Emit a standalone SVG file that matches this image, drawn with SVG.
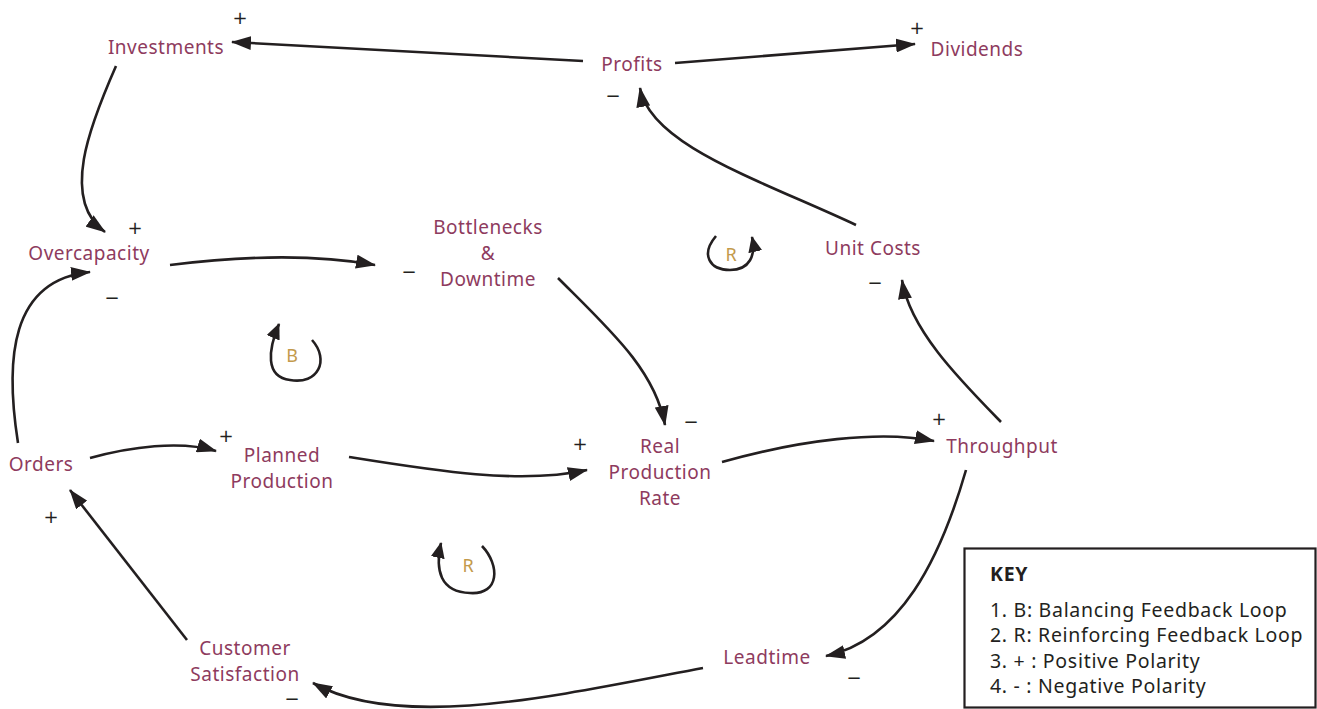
<svg xmlns="http://www.w3.org/2000/svg" width="1317" height="709" viewBox="0 0 1317 709">
  <defs>
    <marker id="arrow" viewBox="0 0 20 14" refX="19" refY="7" markerWidth="20" markerHeight="14" markerUnits="userSpaceOnUse" orient="auto">
      <path d="M0,0 L20,7 L0,14 Z" fill="#231f20"/>
    </marker>
    <marker id="arrow-sm" viewBox="0 0 16 14" refX="15" refY="7" markerWidth="16" markerHeight="14" markerUnits="userSpaceOnUse" orient="auto">
      <path d="M0,0 L16,7 L0,14 Z" fill="#231f20"/>
    </marker>
    <style>
      .node { font-family: "Noto Sans", "Open Sans", "Liberation Sans", sans-serif; font-size: 19px; letter-spacing: 0.5px; fill: #8e3b5e; text-anchor: middle; }
      .pol { font-family: "DejaVu Sans", "Liberation Sans", sans-serif; font-size: 18px; fill: #231f20; text-anchor: middle; }
      .loop { font-family: "Noto Sans", "Open Sans", "Liberation Sans", sans-serif; font-size: 18px; fill: #c39a4c; text-anchor: middle; }
      .link { fill: none; stroke: #231f20; stroke-width: 2.6; marker-end: url(#arrow); }
      .ring { fill: none; stroke: #231f20; stroke-width: 2.6; marker-end: url(#arrow-sm); }
      .key { font-family: "Noto Sans", "Open Sans", "Liberation Sans", sans-serif; font-size: 19.5px; letter-spacing: 0.7px; fill: #231f20; }
    </style>
  </defs>

  <!-- causal links -->
  <g id="connectors">
    <path class="link" d="M583,61 L232,42"/>
    <path class="link" d="M675,63 L915,44"/>
    <path class="link" d="M856,225 C760,180 650,145 640,88"/>
    <path class="link" d="M116,66 C90,125 60,200 105,232"/>
    <path class="link" d="M18,443 C5,360 10,280 90,272"/>
    <path class="link" d="M170,265 C250,255 320,255 375,265"/>
    <path class="link" d="M558,278 C610,330 655,370 665,425"/>
    <path class="link" d="M90,458 C130,447 180,440 216,451"/>
    <path class="link" d="M349,457 C430,470 520,485 587,470"/>
    <path class="link" d="M722,462 C800,440 880,430 934,441"/>
    <path class="link" d="M1001,422 C960,380 910,330 902,280"/>
    <path class="link" d="M966,470 C940,560 900,640 826,656"/>
    <path class="link" d="M703,668 C560,695 400,732 313,683"/>
    <path class="link" d="M187,640 L70,490"/>
  </g>

  <!-- variables -->
  <g id="investments"><text class="node" x="166" y="54">Investments</text></g>
  <g id="profits"><text class="node" x="632" y="71">Profits</text></g>
  <g id="dividends"><text class="node" x="977" y="56">Dividends</text></g>
  <g id="overcapacity"><text class="node" x="89" y="260">Overcapacity</text></g>
  <g id="bottlenecks">
    <text class="node" x="488" y="234">Bottlenecks</text>
    <text class="node" x="488" y="260">&amp;</text>
    <text class="node" x="488" y="286">Downtime</text>
  </g>
  <g id="unit-costs"><text class="node" x="873" y="255">Unit Costs</text></g>
  <g id="orders"><text class="node" x="41" y="471">Orders</text></g>
  <g id="planned-production">
    <text class="node" x="282" y="462">Planned</text>
    <text class="node" x="282" y="488">Production</text>
  </g>
  <g id="real-production-rate">
    <text class="node" x="660" y="453">Real</text>
    <text class="node" x="660" y="479">Production</text>
    <text class="node" x="660" y="505">Rate</text>
  </g>
  <g id="throughput"><text class="node" x="1002" y="453">Throughput</text></g>
  <g id="customer-satisfaction">
    <text class="node" x="245" y="655">Customer</text>
    <text class="node" x="245" y="681">Satisfaction</text>
  </g>
  <g id="leadtime"><text class="node" x="767" y="664">Leadtime</text></g>

  <!-- link polarities -->
  <g id="polarities">
    <text class="pol" x="240" y="24">+</text>
    <text class="pol" x="917" y="34">+</text>
    <text class="pol" x="613" y="102">−</text>
    <text class="pol" x="135" y="234">+</text>
    <text class="pol" x="112" y="304">−</text>
    <text class="pol" x="409" y="278">−</text>
    <text class="pol" x="875" y="289">−</text>
    <text class="pol" x="691" y="428">−</text>
    <text class="pol" x="939" y="425">+</text>
    <text class="pol" x="580" y="450">+</text>
    <text class="pol" x="226" y="442">+</text>
    <text class="pol" x="51" y="523">+</text>
    <text class="pol" x="854" y="684">−</text>
    <text class="pol" x="292" y="705">−</text>
  </g>

  <!-- feedback loop markers -->
  <g id="loop-b">
    <path class="ring" d="M312,340 C330,360 318,385 290,380 C265,377 268,350 279,324"/>
    <text class="loop" x="292" y="362">B</text>
  </g>
  <g id="loop-r-top">
    <path class="ring" d="M716,236 C700,255 710,270 730,270 C750,270 756,255 752,237"/>
    <text class="loop" x="731" y="261">R</text>
  </g>
  <g id="loop-r-bottom">
    <path class="ring" d="M482,546 C500,565 500,595 470,593 C440,592 435,570 441,543"/>
    <text class="loop" x="468" y="572">R</text>
  </g>

  <!-- legend -->
  <g id="key">
    <rect x="964.5" y="548.5" width="351" height="159" fill="#ffffff" stroke="#231f20" stroke-width="2.2"/>
    <text class="key" x="990" y="581" font-weight="bold" letter-spacing="0">KEY</text>
    <text class="key" x="990" y="617">1. B: Balancing Feedback Loop</text>
    <text class="key" x="990" y="642">2. R: Reinforcing Feedback Loop</text>
    <text class="key" x="990" y="668">3. + : Positive Polarity</text>
    <text class="key" x="990" y="693">4. - : Negative Polarity</text>
  </g>
</svg>
